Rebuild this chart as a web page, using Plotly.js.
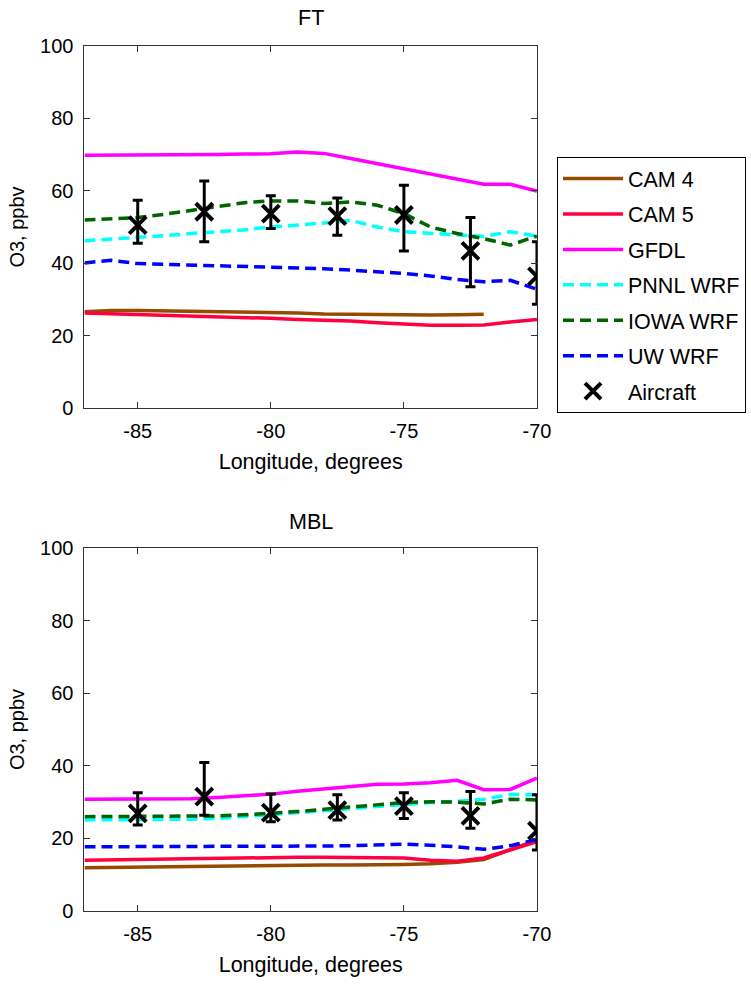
<!DOCTYPE html>
<html>
<head>
<meta charset="utf-8">
<script src="https://cdn.plot.ly/plotly-3.0.1.min.js"></script>
<style>html,body{margin:0;padding:0;background:#fff;}#chart{width:751px;height:985px;}</style>
</head>
<body>
<div id="chart"></div>
<script>
// Longitudes of model output
const lonModel = [-87,-86,-85,-84,-83,-82,-81,-80,-79,-78,-77,-76,-75,-74,-73,-72,-71,-70];
// Aircraft longitudes
const lonAir = [-85,-82.5,-80,-77.5,-75,-72.5,-70];

// FT panel
const ftCAM4 = [26.6,27.0,27.0,26.9,26.9,26.8,26.7,26.6,26.3,26.0,25.9,25.7,25.7,25.7,25.8,25.9,null,null];
const ftCAM5 = [26.3,26.1,26.0,25.8,25.6,25.4,25.1,24.8,24.5,24.3,24.1,23.6,23.2,22.9,22.9,23.0,23.8,24.5];
const ftGFDL = [69.8,69.8,69.8,69.8,69.8,70.0,70.1,70.2,70.7,70.3,68.9,67.5,66.2,64.8,63.4,61.8,61.8,59.9];
const ftPNNL = [46.2,46.6,47.1,47.6,48.2,48.7,49.2,50.0,50.5,51.1,51.8,50.0,48.7,48.2,47.7,47.4,48.7,47.5];
const ftIOWA = [51.9,52.2,52.6,53.5,54.6,55.8,56.7,57.2,57.2,56.5,56.9,56.0,53.7,50.0,48.2,46.8,45.0,47.5];
const ftUW   = [40.1,40.8,39.9,39.7,39.5,39.4,39.2,39.0,38.8,38.5,38.1,37.7,37.2,36.5,35.5,34.9,35.3,32.8];
const ftAir     = [50.5,54.2,53.7,53.0,53.3,43.4,36.4];
const ftAirHigh = [57.4,62.7,58.6,58.0,61.5,52.6,45.9];
const ftAirLow  = [45.5,45.9,49.6,47.7,43.4,33.5,28.7];

// MBL panel
const mblCAM4 = [11.9,12.0,12.1,12.2,12.3,12.5,12.6,12.7,12.7,12.7,12.7,12.7,12.8,13.0,13.4,14.2,17.0,19.6];
const mblCAM5 = [14.0,14.1,14.2,14.4,14.5,14.7,14.8,14.8,14.8,14.8,14.8,14.7,14.6,14.0,13.7,14.6,16.8,19.1];
const mblGFDL = [30.8,30.8,30.8,30.9,30.9,31.3,31.7,32.2,33.0,33.6,34.3,34.9,35.0,35.3,36.0,33.4,33.5,36.6];
const mblPNNL = [25.1,25.1,25.1,25.2,25.3,25.5,26.0,26.5,27.0,27.6,28.2,28.8,29.4,29.9,30.2,30.8,32.1,32.0];
const mblIOWA = [26.0,26.0,26.0,26.1,26.1,26.2,26.5,26.9,27.4,28.0,28.6,29.3,29.9,30.1,30.0,29.5,30.8,30.6];
const mblUW   = [17.7,17.7,17.7,17.7,17.7,17.7,17.7,17.7,17.8,17.9,18.0,18.2,18.4,18.1,17.7,17.0,18.0,19.7];
const mblAir     = [26.9,31.5,27.1,27.8,28.9,26.2,22.1];
const mblAirHigh = [32.6,40.9,32.2,32.0,32.6,32.9,32.0];
const mblAirLow  = [23.7,26.4,24.6,25.1,25.5,22.8,16.8];

const xTicks = [-85,-80,-75,-70];
const yTicks = [0,20,40,60,80,100];

const seriesNames = ['CAM 4','CAM 5','GFDL','PNNL WRF','IOWA WRF','UW WRF'];
const seriesColors = ['#964B00','#FF0040','#FF00FF','#00FFFF','#006400','#0000FF'];
const seriesDash = ['solid','solid','solid','11px,6px','11px,6px','11px,6px'];

const ftModels = [ftCAM4, ftCAM5, ftGFDL, ftPNNL, ftIOWA, ftUW];
const mblModels = [mblCAM4, mblCAM5, mblGFDL, mblPNNL, mblIOWA, mblUW];

const traces = [];
function addPanel(models, air, hi, lo, xa, ya, show) {
  models.forEach((vals, i) => {
    traces.push({
      x: lonModel, y: vals, xaxis: xa, yaxis: ya, type: 'scatter', mode: 'lines',
      name: seriesNames[i], legendgroup: seriesNames[i], showlegend: show,
      connectgaps: false,
      line: {color: seriesColors[i], width: 3.5, dash: seriesDash[i]}
    });
  });
  traces.push({
    x: lonAir, y: air, xaxis: xa, yaxis: ya, type: 'scatter', mode: 'markers',
    name: 'Aircraft', legendgroup: 'Aircraft', showlegend: show,
    marker: {symbol: 'x-thin', size: 17, color: 'black', line: {color: 'black', width: 4}},
    error_y: {type: 'data', symmetric: false,
      array: hi.map((h, k) => h - air[k]),
      arrayminus: lo.map((l, k) => air[k] - l),
      color: 'black', thickness: 3, width: 5}
  });
}
addPanel(ftModels, ftAir, ftAirHigh, ftAirLow, 'x', 'y', true);
addPanel(mblModels, mblAir, mblAirHigh, mblAirLow, 'x2', 'y2', false);

const family = 'Liberation Sans, Arial, sans-serif';
const font = {family: family, size: 20, color: '#000'};
const titleFont = {family: family, size: 21.5, color: '#000'};
function xAxis(anchor) {
  return {domain: [0.1125, 0.715], range: [-87, -70], anchor: anchor,
    tickvals: xTicks, ticktext: xTicks.map(String), ticks: 'inside', ticklen: 6, tickwidth: 1,
    tickcolor: '#333', showline: true, linecolor: '#333', linewidth: 1, mirror: 'ticks',
    showgrid: false, zeroline: false, ticklabelstandoff: 5,
    title: {text: 'Longitude, degrees', font: titleFont, standoff: 12}, tickfont: font};
}
function yAxis(anchor, dom) {
  return {domain: dom, range: [0, 100], anchor: anchor,
    tickvals: yTicks, ticktext: yTicks.map(String), ticks: 'inside', ticklen: 6, tickwidth: 1,
    tickcolor: '#333', showline: true, linecolor: '#333', linewidth: 1, mirror: 'ticks',
    showgrid: false, zeroline: false, ticklabelstandoff: 6,
    title: {text: 'O3, ppbv', font: font, standoff: 10}, tickfont: font};
}

const layout = {
  width: 751, height: 985,
  margin: {l: 0, r: 0, t: 0, b: 0},
  paper_bgcolor: '#fff', plot_bgcolor: '#fff',
  font: font,
  showlegend: true,
  xaxis: xAxis('y'),
  yaxis: yAxis('x', [0.5855, 0.9536]),
  xaxis2: xAxis('y2'),
  yaxis2: yAxis('x2', [0.0751, 0.4437]),
  legend: {x: 557/751, y: 1 - 157/985, xanchor: 'left', yanchor: 'top',
    bordercolor: '#000', borderwidth: 1, bgcolor: '#fff',
    font: {family: family, size: 21.5, color: '#000'},
    traceorder: 'grouped', tracegroupgap: 4.5, itemwidth: 60},
  annotations: [
    {text: 'FT', xref: 'paper', yref: 'paper', x: (0.1125 + 0.715) / 2, y: 1 - 18/985,
     xanchor: 'center', yanchor: 'middle', showarrow: false, font: titleFont},
    {text: 'MBL', xref: 'paper', yref: 'paper', x: (0.1125 + 0.715) / 2, y: 1 - 522/985,
     xanchor: 'center', yanchor: 'middle', showarrow: false, font: titleFont}
  ]
};

Plotly.newPlot('chart', traces, layout, {displayModeBar: false, staticPlot: true});
</script>
</body>
</html>
